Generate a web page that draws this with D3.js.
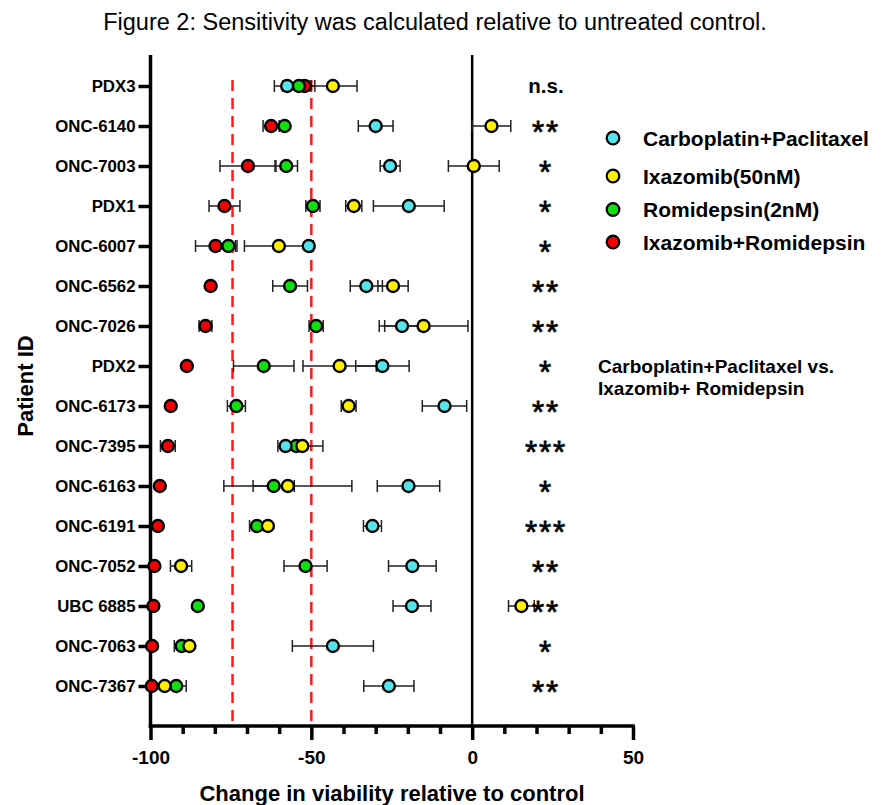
<!DOCTYPE html>
<html>
<head>
<meta charset="utf-8">
<script src="https://d3js.org/d3.v7.min.js"></script>
<style>
  body { margin: 0; background: #fff; }
  svg text { font-family: "Liberation Sans", Arial, sans-serif; fill: #000; }
  .axis .domain, .axis line { stroke: #000; stroke-width: 3.5px; }
  .axis text { font-weight: bold; }
  .errbar { stroke: #222; stroke-width: 1.5px; fill: none; }
</style>
</head>
<body>
<svg id="chart" width="891" height="805"></svg>
<script>
// ---- data ----
const patients = ["PDX3", "ONC-6140", "ONC-7003", "PDX1", "ONC-6007", "ONC-6562", "ONC-7026", "PDX2",
                  "ONC-6173", "ONC-7395", "ONC-6163", "ONC-6191", "ONC-7052", "UBC 6885", "ONC-7063", "ONC-7367"];

const carboPacMean = [-57.5, -30.0, -25.5, -19.7, -50.8, -32.9, -21.8, -27.9, -8.6, -58.0, -19.8, -31.0, -18.6, -18.7, -43.3, -25.9];
const carboPacErr  = [4, 5.4, 3.1, 11, 0, 5, 5.4, 8.3, 6.9, 2.4, 9.7, 2.8, 7.4, 5.9, 12.6, 7.8];

const ixazomibMean = [-43.3, 6.0, 0.5, -36.8, -60.1, -24.6, -15.1, -41.2, -38.4, -52.8, -57.3, -63.5, -90.5, 15.3, -87.9, -95.6];
const ixazomibErr  = [7.5, 6, 7.9, 2.5, 10.7, 4.7, 13.8, 11.4, 2.3, 6.4, 19.9, 0, 3.3, 4, 0, 0];

const romidepsinMean = [-53.9, -58.3, -57.8, -49.5, -75.8, -56.6, -48.5, -64.8, -73.3, -54.7, -61.7, -66.9, -51.8, -85.3, -90.3, -92.0];
const romidepsinErr  = [5, 0, 3.5, 2.2, 2.7, 5.4, 2.2, 9.4, 2.8, 0, 6.4, 2.3, 6.7, 0, 2.3, 3.1];

const comboMean = [-52.1, -62.5, -69.7, -77.0, -79.8, -81.3, -82.9, -88.7, -93.7, -94.6, -97.1, -97.7, -98.8, -99.1, -99.5, -99.6];
const comboErr  = [2, 2.5, 8.7, 4.8, 6.2, 0, 2, 0, 0, 2.3, 0, 0, 0, 0, 0, 0];

const significance = ["n.s.", "**", "*", "*", "*", "**", "**", "*", "**", "***", "*", "***", "**", "**", "*", "**"];

const seriesNames = ["Carboplatin+Paclitaxel", "Ixazomib(50nM)", "Romidepsin(2nM)", "Ixazomib+Romidepsin"];
const seriesColors = ["#55E4EC", "#FFF000", "#10E010", "#F00000"];

const thresholds = [-74.5, -50];
const majorTicks = [-100, -50, 0, 50];
const minorTicks = d3.range(-100, 51, 10);

// ---- layout ----
const svg = d3.select("#chart");
const axisTop = 55, axisBottom = 726;

const x = d3.scaleLinear().domain([-100, 50]).range([150.5, 633]);
const y = d3.scalePoint().domain(patients).range([86, 686]);

// series table, drawn bottom-to-top: combo, romidepsin, ixazomib, carbo
const series = [
  {name: seriesNames[3], color: seriesColors[3], mean: comboMean, err: comboErr},
  {name: seriesNames[2], color: seriesColors[2], mean: romidepsinMean, err: romidepsinErr},
  {name: seriesNames[1], color: seriesColors[1], mean: ixazomibMean, err: ixazomibErr},
  {name: seriesNames[0], color: seriesColors[0], mean: carboPacMean, err: carboPacErr}
];

// title
svg.append("text")
  .attr("x", 435).attr("y", 30)
  .attr("text-anchor", "middle")
  .style("font-size", "23.5px")
  .text("Figure 2: Sensitivity was calculated relative to untreated control.");

// zero line
svg.append("line")
  .attr("x1", x(0)).attr("x2", x(0))
  .attr("y1", axisTop).attr("y2", axisBottom)
  .attr("stroke", "#000").attr("stroke-width", 2.5);

// red dashed reference lines
svg.selectAll("line.thresh").data(thresholds)
  .join("line")
  .attr("class", "thresh")
  .attr("x1", d => x(d)).attr("x2", d => x(d))
  .attr("y1", 80).attr("y2", axisBottom)
  .attr("stroke", "#ff1a1a").attr("stroke-width", 2.5)
  .attr("stroke-dasharray", "11,7");

// x axis (major + minor ticks)
const xAxisG = svg.append("g").attr("class", "axis x")
  .attr("transform", `translate(0,${axisBottom})`)
  .call(d3.axisBottom(x).tickValues(majorTicks).tickSize(14).tickPadding(6).tickFormat(d => String(d)));
xAxisG.select(".domain").attr("d", `M${x(-100) - 1.75},0H${x(50) + 1.75}`);
xAxisG.selectAll("text").style("font-size", "19px").attr("dy", "0.95em");

svg.append("g").attr("class", "axis x-minor")
  .attr("transform", `translate(0,${axisBottom})`)
  .call(d3.axisBottom(x).tickValues(minorTicks.filter(v => !majorTicks.includes(v))).tickSize(8).tickFormat(""))
  .select(".domain").remove();

// y axis
const yAxisG = svg.append("g").attr("class", "axis y")
  .attr("transform", `translate(${x(-100)},0)`)
  .call(d3.axisLeft(y).tickSize(12).tickPadding(3));
yAxisG.select(".domain").attr("d", `M0,${axisTop}V${axisBottom + 1.75}`);
yAxisG.selectAll("text").style("font-size", "16.8px");

// axis titles
svg.append("text")
  .attr("x", 392).attr("y", 801)
  .attr("text-anchor", "middle")
  .style("font-size", "22px").style("font-weight", "bold")
  .text("Change in viability relative to control");

svg.append("text")
  .attr("transform", "translate(33,386) rotate(-90)")
  .attr("text-anchor", "middle")
  .style("font-size", "22px").style("font-weight", "bold")
  .text("Patient ID");

// error bars
const plot = svg.append("g");
series.forEach(s => {
  const rows = patients.map((p, i) => ({p, m: s.mean[i], e: s.err[i]})).filter(d => d.e > 0);
  const g = plot.append("g");
  g.selectAll("path").data(rows)
    .join("path")
    .attr("class", "errbar")
    .attr("d", d => {
      const x0 = x(d.m - d.e), x1 = x(d.m + d.e), yy = y(d.p);
      return `M${x0},${yy}H${x1}M${x0},${yy - 6}V${yy + 6}M${x1},${yy - 6}V${yy + 6}`;
    });
});

// markers
series.forEach(s => {
  plot.append("g").selectAll("circle")
    .data(patients.map((p, i) => ({p, m: s.mean[i]})))
    .join("circle")
    .attr("cx", d => x(d.m))
    .attr("cy", d => y(d.p))
    .attr("r", 6)
    .attr("fill", s.color)
    .attr("stroke", "#000")
    .attr("stroke-width", 2.4);
});

// significance labels
svg.selectAll("text.sig").data(patients)
  .join("text")
  .attr("class", "sig")
  .attr("x", 546)
  .attr("y", d => y(d))
  .attr("text-anchor", "middle")
  .each(function(d, i) {
    const t = d3.select(this);
    if (significance[i] === "n.s.") {
      t.attr("dy", "0.35em").style("font-size", "20.5px").style("font-weight", "bold");
    } else {
      t.attr("dy", "0.54em").style("font-size", "31px").style("letter-spacing", "2px")
        .style("stroke", "#000").style("stroke-width", "0.8px");
    }
  })
  .text((d, i) => significance[i]);

// legend
const legendY = [138, 176, 209.5, 242];
const legend = svg.append("g");
seriesNames.forEach((name, i) => {
  legend.append("circle")
    .attr("cx", 613).attr("cy", legendY[i]).attr("r", 6.3)
    .attr("fill", seriesColors[i]).attr("stroke", "#000").attr("stroke-width", 2.2);
  legend.append("text")
    .attr("x", 643).attr("y", legendY[i]).attr("dy", "0.36em")
    .style("font-size", "21px").style("font-weight", "bold")
    .text(name);
});

// comparison note
const note = svg.append("text")
  .attr("x", 598).attr("y", 373)
  .style("font-size", "19px").style("font-weight", "bold");
note.append("tspan").attr("x", 598).text("Carboplatin+Paclitaxel vs.");
note.append("tspan").attr("x", 598).attr("dy", 22).text("Ixazomib+ Romidepsin");
</script>
</body>
</html>
